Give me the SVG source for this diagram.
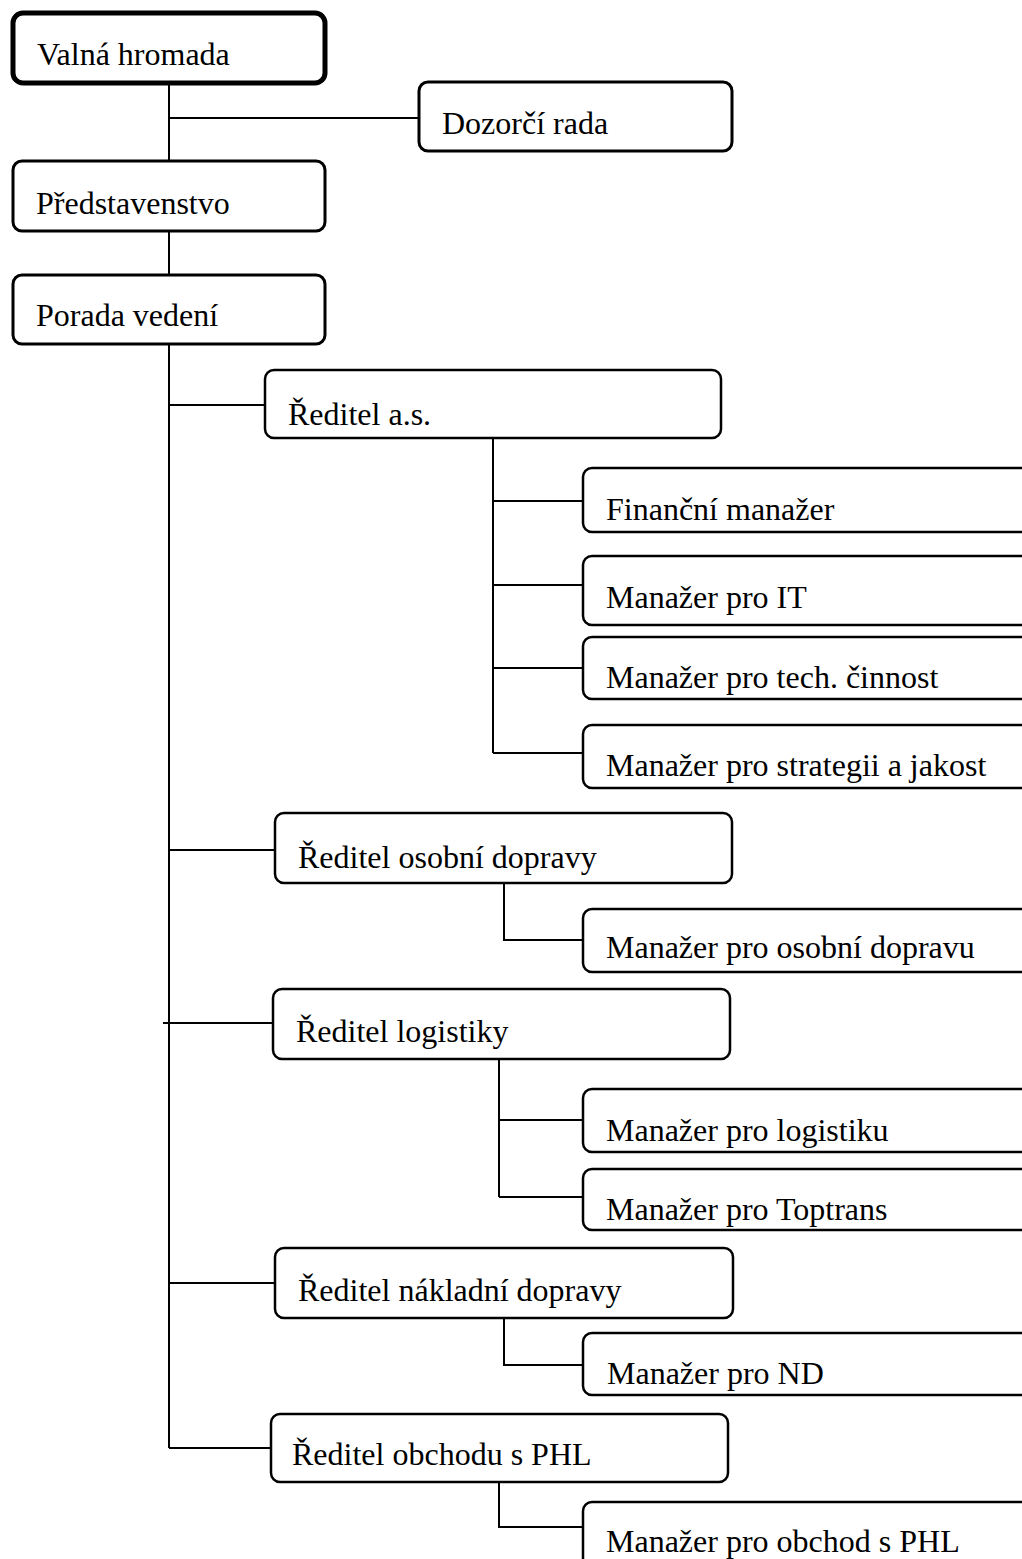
<svg xmlns="http://www.w3.org/2000/svg" width="1022" height="1559" viewBox="0 0 1022 1559">
<style>
.box{fill:#fff;stroke:#000;stroke-width:2.5}
.b3{stroke-width:3}
.b5{stroke-width:5}
.t{font-family:"Liberation Serif","Times New Roman",serif;font-size:32px;fill:#000}
.c{fill:none;stroke:#000;stroke-width:2}
</style>
<rect width="1022" height="1559" fill="#fff"/>
<g id="connectors">
<path class="c" d="M169 83V161M169 118H419M169 231V275M169 344V1448"/>
<path class="c" d="M169 405H265M169 850H275M163 1023H273M169 1283H275M169 1448H271"/>
<path class="c" d="M493 438V753M493 501H583M493 585H583M493 668H583M493 753H583"/>
<path class="c" d="M504 883V940H583"/>
<path class="c" d="M499 1059V1197M499 1120H583M499 1197H583"/>
<path class="c" d="M504 1318V1365H583"/>
<path class="c" d="M499 1482V1527H583"/>
</g>
<g id="valna"><rect class="box b5" x="13" y="13" width="312" height="70" rx="10"/><text class="t" x="37" y="65">Valná hromada</text></g>
<g id="dozorci"><rect class="box b3" x="419" y="82" width="313" height="69" rx="9"/><text class="t" x="442" y="134">Dozorčí rada</text></g>
<g id="predstavenstvo"><rect class="box b3" x="13" y="161" width="312" height="70" rx="9"/><text class="t" x="36" y="214">Představenstvo</text></g>
<g id="porada"><rect class="box b3" x="13" y="275" width="312" height="69" rx="9"/><text class="t" x="36" y="326">Porada vedení</text></g>
<g id="reditel-as"><rect class="box" x="265" y="370" width="456" height="68" rx="9"/><text class="t" x="288" y="425">Ředitel a.s.</text></g>
<g id="financni"><rect class="box" x="583" y="468" width="460" height="64" rx="9"/><text class="t" x="606" y="520">Finanční manažer</text></g>
<g id="it"><rect class="box" x="583" y="556" width="460" height="69" rx="9"/><text class="t" x="606" y="608">Manažer pro IT</text></g>
<g id="tech"><rect class="box" x="583" y="637" width="460" height="62" rx="9"/><text class="t" x="606" y="688">Manažer pro tech. činnost</text></g>
<g id="strategie"><rect class="box" x="583" y="725" width="460" height="63" rx="9"/><text class="t" x="606" y="776">Manažer pro strategii a jakost</text></g>
<g id="reditel-osobni"><rect class="box" x="275" y="813" width="457" height="70" rx="9"/><text class="t" x="298" y="868">Ředitel osobní dopravy</text></g>
<g id="manazer-osobni"><rect class="box" x="583" y="909" width="460" height="63" rx="9"/><text class="t" x="606" y="958">Manažer pro osobní dopravu</text></g>
<g id="reditel-logistiky"><rect class="box" x="273" y="989" width="457" height="70" rx="9"/><text class="t" x="296" y="1042">Ředitel logistiky</text></g>
<g id="logistika"><rect class="box" x="583" y="1089" width="460" height="63" rx="9"/><text class="t" x="606" y="1141">Manažer pro logistiku</text></g>
<g id="toptrans"><rect class="box" x="583" y="1169" width="460" height="61" rx="9"/><text class="t" x="606" y="1220">Manažer pro Toptrans</text></g>
<g id="reditel-nakladni"><rect class="box" x="275" y="1248" width="458" height="70" rx="9"/><text class="t" x="298" y="1301">Ředitel nákladní dopravy</text></g>
<g id="nd"><rect class="box" x="583" y="1333" width="460" height="62" rx="9"/><text class="t" x="607" y="1384">Manažer pro ND</text></g>
<g id="reditel-obchodu"><rect class="box" x="271" y="1414" width="457" height="68" rx="9"/><text class="t" x="292" y="1465">Ředitel obchodu s PHL</text></g>
<g id="obchod"><rect class="box" x="583" y="1502" width="460" height="80" rx="9"/><text class="t" x="606" y="1552">Manažer pro obchod s PHL</text></g>
</svg>
